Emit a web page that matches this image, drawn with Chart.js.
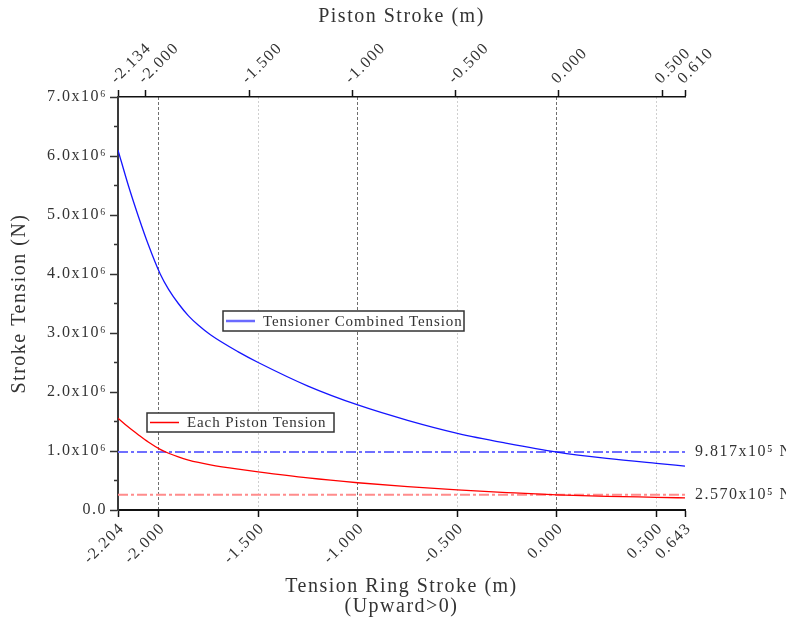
<!DOCTYPE html>
<html>
<head>
<meta charset="utf-8">
<script src="https://cdn.jsdelivr.net/npm/chart.js@4.4.1/dist/chart.umd.min.js"></script>
<style>
  html, body { margin: 0; padding: 0; background: #fff; }
  canvas { display: block; }
</style>
</head>
<body>
<canvas id="strokeChart" width="786" height="624"></canvas>
<script>
// tension ring stroke (m), upward > 0
const ringStroke = [-2.204, -2.152, -2.102, -2.052, -1.992, -1.95, -1.901, -1.85, -1.8, -1.74, -1.6, -1.5, -1.25, -1.0, -0.75, -0.5, -0.25, 0.0, 0.25, 0.5, 0.643];
// tension (N)
const combinedTension = [6.10e6, 5.50e6, 4.98e6, 4.50e6, 4.00e6, 3.74e6, 3.50e6, 3.29e6, 3.13e6, 2.97e6, 2.68e6, 2.50e6, 2.10e6, 1.78e6, 1.52e6, 1.30e6, 1.13e6, 0.982e6, 0.875e6, 0.79e6, 0.745e6];
const pistonTension = [1.555e6, 1.405e6, 1.275e6, 1.152e6, 1.027e6, 0.962e6, 0.90e6, 0.847e6, 0.806e6, 0.766e6, 0.692e6, 0.646e6, 0.543e6, 0.462e6, 0.396e6, 0.340e6, 0.296e6, 0.257e6, 0.232e6, 0.215e6, 0.205e6];

const ringTicks = [-2.204, -2.0, -1.5, -1.0, -0.5, 0.0, 0.5, 0.643];
const pistonTicks = [-2.134, -2.0, -1.5, -1.0, -0.5, 0.0, 0.5, 0.610];

const refLevels = [981700, 257000];
const refLabels = ["9.817x10\u2075 N", "2.570x10\u2075 N"];

const SERIF = "'Liberation Serif', 'DejaVu Serif', serif";
const TEXT = "#333";

Chart.defaults.font.family = SERIF;
Chart.defaults.color = TEXT;

const xMin = ringTicks[0];
const xMax = ringTicks[ringTicks.length - 1];

function pts(ys) {
  return ringStroke.map((x, i) => ({ x, y: ys[i] }));
}

// wider glyph spacing for all canvas text
const spacing = {
  id: "spacing",
  beforeUpdate(chart) { chart.ctx.letterSpacing = "1.5px"; },
  beforeDraw(chart) { chart.ctx.letterSpacing = "1.5px"; }
};

// boxed legends placed inside the plot
const boxLegends = [
  { text: "Tensioner Combined Tension", color: "#6a6aff", width: 2.5, box: [223, 311, 241, 20] },
  { text: "Each Piston Tension", color: "#ff0000", width: 1.5, box: [147, 413, 187, 19] }
];

const extras = {
  id: "extras",
  afterDatasetsDraw(chart) {
    const { ctx, chartArea, scales } = chart;
    ctx.save();

    // labels for reference levels
    ctx.letterSpacing = "1.5px";
    ctx.font = "16px " + SERIF;
    ctx.fillStyle = TEXT;
    ctx.textBaseline = "middle";
    ctx.textAlign = "left";
    refLevels.forEach((v, i) => {
      ctx.fillText(refLabels[i], chartArea.right + 10, scales.y.getPixelForValue(v));
    });

    // legend boxes
    ctx.letterSpacing = "0.9px";
    ctx.font = "15px " + SERIF;
    boxLegends.forEach(l => {
      const [bx, by, bw, bh] = l.box;
      ctx.fillStyle = "#fff";
      ctx.fillRect(bx, by, bw, bh);
      ctx.strokeStyle = "#333";
      ctx.lineWidth = 1.5;
      ctx.strokeRect(bx, by, bw, bh);
      ctx.strokeStyle = l.color;
      ctx.lineWidth = l.width;
      ctx.beginPath();
      ctx.moveTo(bx + 3, by + bh / 2);
      ctx.lineTo(bx + 32, by + bh / 2);
      ctx.stroke();
      ctx.fillStyle = TEXT;
      ctx.fillText(l.text, bx + 40, by + bh / 2 + 1);
    });
    ctx.restore();
  }
};

new Chart(document.getElementById("strokeChart"), {
  type: "line",
  data: {
    datasets: [
      {
        label: "Tensioner Combined Tension",
        data: pts(combinedTension),
        borderColor: "#1515ff",
        borderWidth: 1.3,
        pointRadius: 0,
        cubicInterpolationMode: "monotone",
        xAxisID: "x"
      },
      {
        label: "Each Piston Tension",
        data: pts(pistonTension),
        borderColor: "#ff0000",
        borderWidth: 1.3,
        pointRadius: 0,
        cubicInterpolationMode: "monotone",
        xAxisID: "x"
      },
      {
        label: "combined ref",
        data: [{ x: xMin, y: refLevels[0] }, { x: xMax, y: refLevels[0] }],
        borderColor: "#6f6fff",
        borderWidth: 2,
        borderDash: [10, 3, 3, 3],
        pointRadius: 0,
        xAxisID: "x"
      },
      {
        label: "piston ref",
        data: [{ x: xMin, y: refLevels[1] }, { x: xMax, y: refLevels[1] }],
        borderColor: "#ff8c8c",
        borderWidth: 2,
        borderDash: [10, 3, 3, 3],
        pointRadius: 0,
        xAxisID: "x"
      }
    ]
  },
  options: {
    responsive: false,
    animation: false,
    layout: { padding: { left: 0, right: 101, top: 0, bottom: 0 } },
    plugins: {
      legend: { display: false },
      tooltip: { enabled: false }
    },
    scales: {
      x: {
        type: "linear",
        position: "bottom",
        min: xMin,
        max: xMax,
        afterBuildTicks(s) {
          s.ticks = ringTicks.map(value => ({ value }));
        },
        afterFit(s) {
          s.height = 114;
          s.paddingLeft = 0;
          s.paddingRight = 0;
        },
        ticks: {
          autoSkip: false,
          minRotation: 45,
          maxRotation: 45,
          padding: 2,
          labelOffset: 4,
          color: TEXT,
          font: { size: 16 },
          callback: v => v.toFixed(3)
        },
        grid: {
          drawOnChartArea: true,
          lineWidth: 1,
          color: ctx => {
            const v = ctx.tick ? ctx.tick.value : null;
            if (v === xMin || v === xMax) return "rgba(0,0,0,0)";
            return Number.isInteger(v) ? "#6e6e6e" : "#cfcfcf";
          },
          tickColor: "#111",
          tickWidth: 1.5,
          tickLength: 7
        },
        border: {
          display: true,
          color: "#111",
          width: 2,
          dash: ctx => {
            const v = ctx.tick ? ctx.tick.value : 0;
            return Number.isInteger(v) ? [3, 2] : [2, 2];
          }
        },
        title: {
          display: true,
          text: ["Tension Ring Stroke (m)", "(Upward>0)"],
          color: TEXT,
          font: { size: 20, lineHeight: 1.0 },
          padding: { top: 0, bottom: 7 }
        }
      },
      x2: {
        type: "linear",
        position: "top",
        min: pistonTicks[0],
        max: pistonTicks[pistonTicks.length - 1],
        afterBuildTicks(s) {
          s.ticks = pistonTicks.map(value => ({ value }));
        },
        afterFit(s) {
          s.height = 97;
          s.paddingLeft = 0;
          s.paddingRight = 0;
        },
        ticks: {
          autoSkip: false,
          minRotation: 45,
          maxRotation: 45,
          padding: 2,
          labelOffset: 9,
          color: TEXT,
          font: { size: 16 },
          callback: v => v.toFixed(3)
        },
        grid: {
          drawOnChartArea: false,
          tickColor: "#111",
          tickWidth: 1.5,
          tickLength: 7
        },
        border: { display: true, color: "#111", width: 1.5 },
        title: {
          display: true,
          text: "Piston Stroke (m)",
          color: TEXT,
          font: { size: 20, lineHeight: 1.0 },
          padding: { top: 7, bottom: 0 }
        }
      },
      y: {
        type: "linear",
        position: "left",
        min: 0,
        max: 7e6,
        afterFit(s) {
          s.width = 118;
          s.paddingTop = 0;
          s.paddingBottom = 0;
        },
        ticks: {
          stepSize: 5e5,
          autoSkip: false,
          padding: 3,
          color: TEXT,
          font: { size: 16 },
          callback: v => {
            if (v === 0) return "0.0";
            if (v % 1e6 !== 0) return "";
            return (v / 1e6).toFixed(1) + "x10\u2076";
          }
        },
        grid: {
          drawOnChartArea: false,
          tickColor: "#333",
          tickWidth: 1.5,
          tickLength: 8,
          // half steps get a short tick next to the axis
          tickBorderDash: ctx => (ctx.tick && ctx.tick.value % 1e6 !== 0) ? [0, 4, 8, 100] : []
        },
        border: { display: true, color: "#3a3a3a", width: 2 },
        title: {
          display: true,
          text: "Stroke Tension (N)",
          color: TEXT,
          font: { size: 20, lineHeight: 1.0 },
          padding: { top: 10, bottom: 0 }
        }
      }
    }
  },
  plugins: [spacing, extras]
});
</script>
</body>
</html>
